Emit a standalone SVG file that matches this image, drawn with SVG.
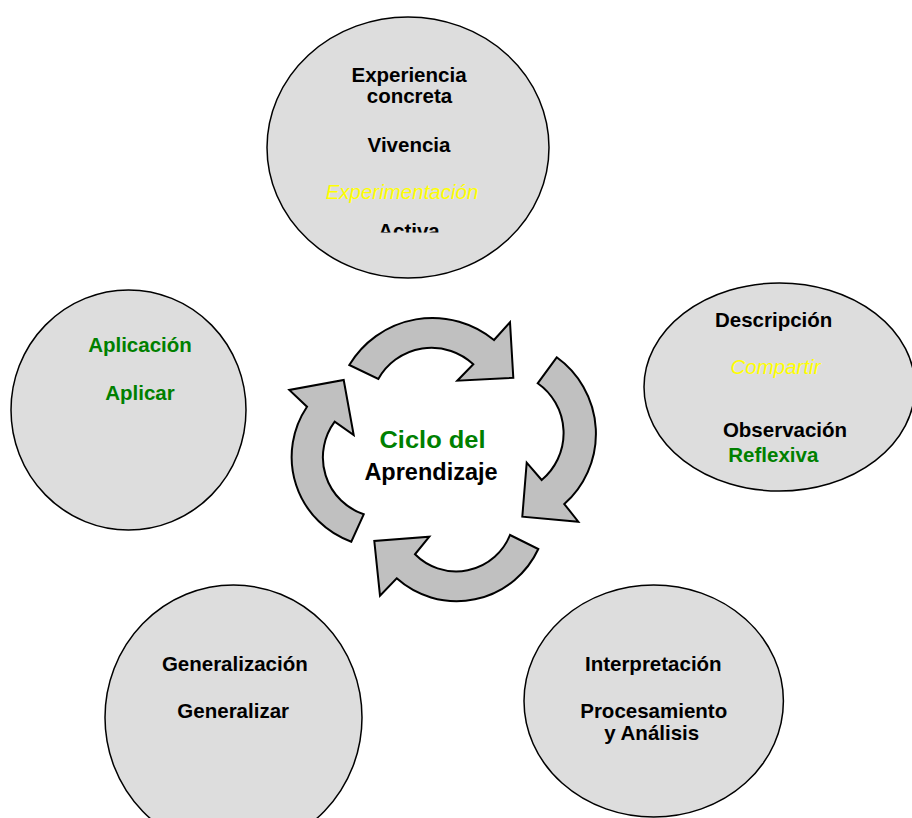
<svg xmlns="http://www.w3.org/2000/svg" width="912" height="818" viewBox="0 0 912 818">
<style>
.node ellipse{fill:#dddddd;stroke:#000;stroke-width:1.5}
.arrow{fill:#c0c0c0;stroke:#000;stroke-width:2;stroke-linejoin:miter}
.b{font-family:"Liberation Sans",Arial,sans-serif;font-weight:bold;font-size:20.5px;text-anchor:middle;fill:#000}
.i{font-family:"Liberation Sans",Arial,sans-serif;font-style:italic;font-size:20.5px;text-anchor:middle;fill:#ffff00}
.g{fill:#008000}
.c{font-size:23.5px}
</style>
<defs>
<clipPath id="clipTop"><rect x="260" y="0" width="300" height="232.5"/></clipPath>
</defs>
<rect width="912" height="818" fill="#fff"/>
<g id="experiencia" class="node">
<ellipse cx="408" cy="147.5" rx="141" ry="130.5"/>
<text class="b" x="409" y="81.5">Experiencia</text>
<text class="b" x="409.5" y="103">concreta</text>
<text class="b" x="409" y="151.5">Vivencia</text>
<text class="i" x="402" y="199.3">Experimentación</text>
<text class="b" x="409" y="238.3" clip-path="url(#clipTop)">Activa</text>
</g>
<g id="descripcion" class="node">
<ellipse cx="779.5" cy="387" rx="135.5" ry="104"/>
<text class="b" x="773.7" y="327">Descripción</text>
<text class="i" x="775.5" y="374.3">Compartir</text>
<text class="b" x="785" y="437.3">Observación</text>
<text class="b g" x="773.3" y="461.7">Reflexiva</text>
</g>
<g id="interpretacion" class="node">
<ellipse cx="653.7" cy="701" rx="129.7" ry="116"/>
<text class="b" x="653.3" y="670.7">Interpretación</text>
<text class="b" x="653.7" y="718.3">Procesamiento</text>
<text class="b" x="651.7" y="739.8">y Análisis</text>
</g>
<g id="generalizacion" class="node">
<ellipse cx="233.5" cy="717.5" rx="128.5" ry="132.5"/>
<text class="b" x="234.8" y="670.7">Generalización</text>
<text class="b" x="233.2" y="718.3">Generalizar</text>
</g>
<g id="aplicacion" class="node">
<ellipse cx="128.5" cy="410" rx="117.5" ry="120"/>
<text class="b g" x="140" y="351.7">Aplicación</text>
<text class="b g" x="140" y="400">Aplicar</text>
</g>
<g id="connectors">
<path class="arrow" d="M349.3,365 A97,97 0 0 1 494,340 L510,322.3 L513.3,377.7 L457.3,380.7 L473.3,364.3 A61,61 0 0 0 378.3,379 Z"/>
<path class="arrow" d="M556.7,357.3 A94,94 0 0 1 564.3,504 L578.3,521.7 L522.3,516.7 L526.7,462.7 L541.7,480 A61,61 0 0 0 537.7,383.3 Z"/>
<path class="arrow" d="M538.3,549 A90,90 0 0 1 396.7,578.3 L380,595.7 L374.3,541 L429.3,536.7 L415,554.3 A58,58 0 0 0 510,535 Z"/>
<path class="arrow" d="M351.3,541.7 A90,90 0 0 1 307,406.7 L289.3,390 L343.7,380 L353.7,435 L334.7,421.7 A60,60 0 0 0 363.7,514.3 Z"/>
</g>
<g id="ciclo">
<text class="b g c" x="432.5" y="448" textLength="106" lengthAdjust="spacingAndGlyphs">Ciclo del</text>
<text class="b c" x="431" y="480">Aprendizaje</text>
</g>
</svg>
